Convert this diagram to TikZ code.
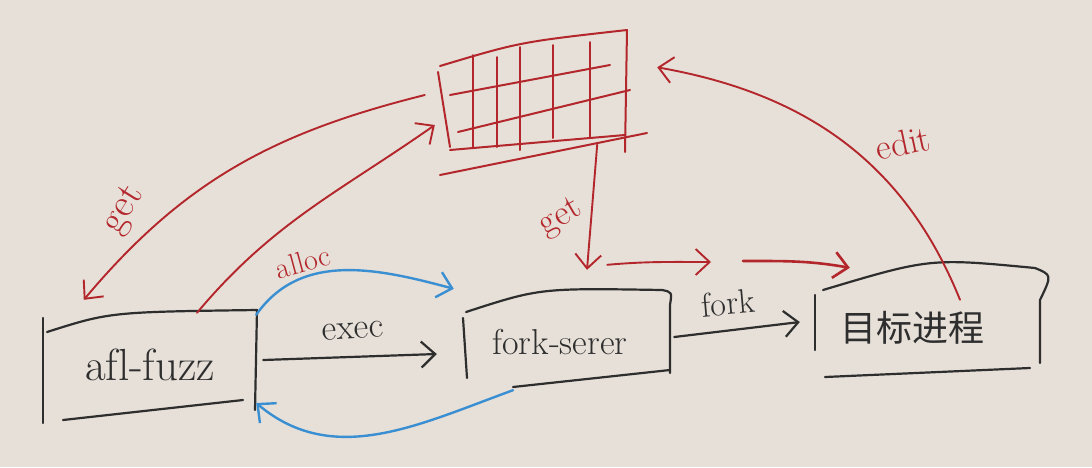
\documentclass[tikz,border=0pt]{standalone}
\usepackage{fontspec}
\newfontfamily\cjk{Noto Sans CJK SC}
\usetikzlibrary{arrows.meta}
\definecolor{paper}{HTML}{E7E0D8}
\definecolor{ink}{HTML}{2E2E2E}
\definecolor{pen}{HTML}{B3262B}
\definecolor{hl}{HTML}{3A8FD3}
\begin{document}
\begin{tikzpicture}[x=1pt, y=-1pt, line join=round, line cap=round,
  >={Straight Barb[length=14pt,width=26pt]},
  box/.style={line width=2.2pt, ink},
  txt/.style={text=ink, inner sep=0pt},
  lbl/.style={text=pen, inner sep=0pt},
  redline/.style={line width=1.9pt, pen, ->},
  blueline/.style={line width=2.4pt, hl, ->},
  inkline/.style={line width=2.2pt, ink, ->}]
%Nền
\fill[paper] (0,0) rectangle (1092,467);
\useasboundingbox (0,0) rectangle (1092,467);
%Các nút
\node[txt, minimum width=212pt, minimum height=100pt, font=\fontsize{45}{50}\selectfont] (fuzz) at (150,365) {af\kern0pt l-fuzz};
\node[txt, minimum width=206pt, minimum height=90pt, font=\fontsize{36}{40}\selectfont] (server) at (560,342) {fork-serer};
\node[txt, minimum width=200pt, minimum height=90pt, font=\fontsize{36}{40}\selectfont\cjk] (target) at (912,328) {目标进程};
\node[minimum width=180pt, minimum height=115pt] (tbl) at (535,95) {};
%Khung vẽ tay
\draw[box] (43,318) -- (43,423);
\draw[box] (47,332) .. controls (110,312) .. (257,310) -- (255,410);
\draw[box] (63,420) -- (243,400);
\draw[box] (463,318) -- (467,378);
\draw[box] (466,312) .. controls (540,288) .. (662,290) .. controls (672,292) .. (670,305) -- (670,373);
\draw[box] (513,387) -- (670,370);
\draw[box] (815,295) -- (815,350);
\draw[box] (823,290) .. controls (930,258) .. (1035,268) .. controls (1052,275) .. (1040,300) -- (1040,363);
\draw[box] (825,377) -- (1030,368);
%Bảng
\begin{scope}[pen, line width=2pt]
\draw (440,66) .. controls (520,42) .. (627,30) -- (625,152);
\draw (438,72) .. controls (444,110) .. (450,147);
\draw (450,95) -- (610,65);
\draw (458,132) -- (630,90);
\draw (450,150) -- (625,135);
\draw (440,175) -- (647,133);
\foreach \x/\a/\b in {473/55/148, 497/57/147, 520/47/150, 553/45/138, 590/42/137}
  \draw (\x,\a) -- (\x,\b);
\end{scope}
%Mũi tên
\draw[redline] ([xshift=-20pt]tbl.west) to[out=194, in=50] ([shift={(40pt,15pt)}]fuzz.north west);
\node[lbl, rotate=58, font=\fontsize{40}{44}\selectfont] (get1) at (124,210) {get};
\draw[redline] ([shift={(47pt,2pt)}]fuzz.north) to[out=50, in=215] ([shift={(-10pt,-30pt)}]tbl.west);
\node[lbl, rotate=15, font=\fontsize{30}{34}\selectfont] (alloc) at (303,262) {alloc};
\draw[blueline] (fuzz.north east) to[out=55, in=165] ([shift={(-3pt,8pt)}]server.north west);
\draw[inkline] ([shift={(7pt,5pt)}]fuzz.east) -- ([shift={(-20pt,-12pt)}]server.west);
\node[txt, rotate=3, font=\fontsize{36}{40}\selectfont] (exec) at (353,331) {exec};
\draw[blueline] ([shift={(-47pt,-3pt)}]server.south) to[out=200, in=-40] ([yshift=-38pt]fuzz.east);
\draw[redline] ([shift={(-28pt,8pt)}]tbl.south east) -- ([shift={(27pt,27pt)}]server.north);
\node[lbl, rotate=30, font=\fontsize{36}{40}\selectfont] (get2) at (561,218) {get};
\coordinate (r1) at ([shift={(-56pt,32pt)}]server.north east);
\coordinate (r2) at (711,262);
\coordinate (r3) at (743,261);
\draw[redline] (r1) to[out=5, in=180] (r2);
\draw[redline, line width=2.6pt] (r3) to[out=0, in=170] ([shift={(38pt,15pt)}]target.north west);
\draw[inkline] ([shift={(11pt,5pt)}]server.east) -- ([shift={(-12pt,6pt)}]target.west);
\node[txt, rotate=5, font=\fontsize{34}{40}\selectfont] (fork) at (728,303) {fork};
\draw[redline] ([shift={(48pt,-17pt)}]target.north) to[out=112, in=350] ([shift={(32pt,-30pt)}]tbl.north east);
\node[lbl, rotate=12, font=\fontsize{36}{40}\selectfont] (edit) at (903,143) {edit};
\end{tikzpicture}
\end{document}
